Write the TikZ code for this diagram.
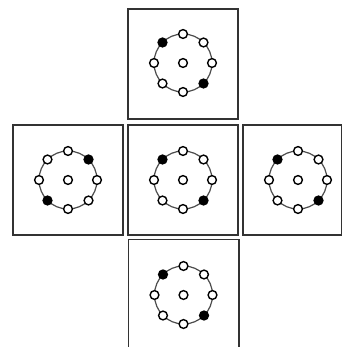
\documentclass[tikz,border=0pt]{standalone}
\usepackage{tikz}
\usetikzlibrary{
    positioning
}

\tikzset{
    frame/.style={draw=black!80,line width=1.3pt},
    ring/.style={draw=black!70,line width=1.2pt},
    dot/.style={circle,draw=black,line width=1.4pt,inner sep=0pt,minimum size=8.8pt}
}

\begin{document}
\begin{tikzpicture}[x=1pt,y=1pt]

\useasboundingbox (0,0) rectangle (343,347);
\clip (0,0) rectangle (343,347);

% Frames
\draw[frame] (128,228) rectangle (238,338);
\draw[frame] (13,112) rectangle (123,222);
\draw[frame] (128,112) rectangle (238,222);
\draw[frame] (243,112) rectangle (341.5,222);
\draw[frame] (128.5,-4) rectangle (239,107.5);

% Rings, with the two black dots opposite each other
\foreach \n/\x/\y/\a in {t/183/284/135, l/68/167/45, c/183/167/135,
                         r/298/167/135, b/183.5/52/135}{
    \draw[ring] (\x,\y) circle (29);
    \node[dot,fill=white] (\n-c) at (\x,\y) {};
    \foreach \ang in {0,45,...,315}{
        \pgfmathtruncatemacro\hit{(\ang==\a)||(\ang==\a+180)}
        \ifnum\hit=1 \def\fillc{black}\else\def\fillc{white}\fi
        \node[dot,fill=\fillc] (\n-\ang) at ([shift={(\ang:29)}]\x,\y) {};
    }
}

\end{tikzpicture}
\end{document}
